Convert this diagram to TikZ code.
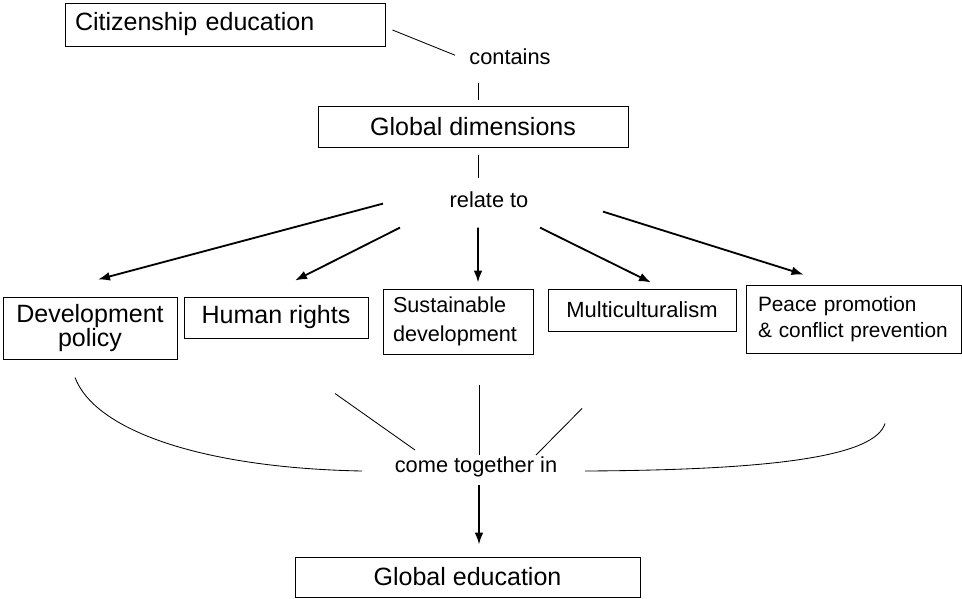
\documentclass[tikz,border=0pt]{standalone}
\usepackage{fontspec}
\setmainfont{Liberation Sans}
\usetikzlibrary{arrows.meta, positioning}

\begin{document}
\begin{tikzpicture}[
    box/.style={draw, line width=0.7pt, inner sep=0pt, align=center, font={\fontsize{17.8pt}{16.4pt}\selectfont}},
    lbl/.style={inner sep=0pt, font={\fontsize{15.5pt}{18pt}\selectfont}},
    arr/.style={-{Latex[length=3mm, width=2.2mm]}, line width=1.3pt},
    link/.style={line width=0.6pt}
]

\useasboundingbox (0,0) rectangle (24.05,-14.95);

\node[box, align=left, text width=7.5cm, inner xsep=0.25cm, minimum height=1.075cm] (cit) at (5.625,-0.6125) {Citizenship education};
\node[lbl] (contains) at (12.75,-1.43) {contains};
\node[box, minimum width=7.75cm, minimum height=1.025cm] (globdim) at (11.825,-3.1625) {Global dimensions};
\node[lbl] (relate) at (12.225,-4.99) {relate to};

\node[box, minimum width=4.35cm, minimum height=1.55cm] (devpol) at (2.25,-8.2) {Development\\policy};
\node[box, minimum width=4.6cm, minimum height=1.025cm] (humrt) at (6.9,-7.9375) {Human rights};
\node[box, align=left, text width=3.25cm, inner xsep=0.25cm, minimum height=1.625cm, font={\fontsize{15.4pt}{20.6pt}\selectfont}] (susdev) at (11.45,-8.0375) {Sustainable\\development};
\node[box, minimum width=4.7cm, minimum height=1.05cm, font={\fontsize{15.6pt}{18pt}\selectfont}] (multi) at (16.05,-7.75) {Multiculturalism};
\node[box, align=left, text width=4.775cm, inner xsep=0.3cm, minimum height=1.7cm, font={\fontsize{14.8pt}{18.5pt}\selectfont}] (peace) at (21.3375,-7.975) {Peace promotion\\\& conflict prevention};

\node[lbl] (come) at (11.9,-11.675) {come together in};
\node[box, minimum width=8.625cm, minimum height=1.0cm] (globedu) at (11.6875,-14.425) {Global education};

\draw[link] ([shift={(0.175,-0.1375)}]cit.east) -- ([shift={(-1.375,0.05)}]contains.center);
\draw[link, shorten <=0.45cm, shorten >=0.15cm] ([xshift=0.125cm]globdim.north |- contains.south) -- ([xshift=0.125cm]globdim.north);
\draw[link, shorten <=0.2cm, shorten >=0.325cm] ([xshift=0.125cm]globdim.south) -- ([xshift=0.125cm]globdim.south |- relate.north);

\draw[arr] ([shift={(-2.65,-0.1)}]relate.center) -- ([shift={(0.2,0.425)}]devpol.north);
\draw[arr] ([shift={(-2.225,-0.7)}]relate.center) -- ([shift={(0.475,0.4)}]humrt.north);
\draw[arr] ([shift={(-0.275,-0.7)}]relate.center) -- ([shift={(0.5,0.15)}]susdev.north);
\draw[arr] ([shift={(1.275,-0.7)}]relate.center) -- ([shift={(0.225,0.15)}]multi.north);
\draw[arr] ([shift={(2.85,-0.3)}]relate.center) -- ([shift={(-1.25,0.25)}]peace.north);

\draw[link] ([shift={(-0.375,-0.45)}]devpol.south) .. controls +(0.5,-1.325) and +(-4.0,0.075) .. ([shift={(-2.85,-0.1)}]come.center);
\draw[link] ([shift={(1.475,-1.375)}]humrt.south) -- ([shift={(-1.525,0.425)}]come.center);
\draw[link] ([shift={(0.525,-0.775)}]susdev.south) -- ([shift={(0.075,0.3)}]come.center);
\draw[link] ([shift={(-1.5,-1.925)}]multi.south) -- ([shift={(1.5,0.3)}]come.center);
\draw[link] ([shift={(0.7875,-1.75)}]peace.south) .. controls +(-0.25,-0.8) and +(4.875,0.025) .. ([shift={(2.725,-0.1)}]come.center);

\draw[arr] ([shift={(0.075,-0.45)}]come.center) -- ([shift={(0.2875,0.3)}]globedu.north);

\end{tikzpicture}
\end{document}
